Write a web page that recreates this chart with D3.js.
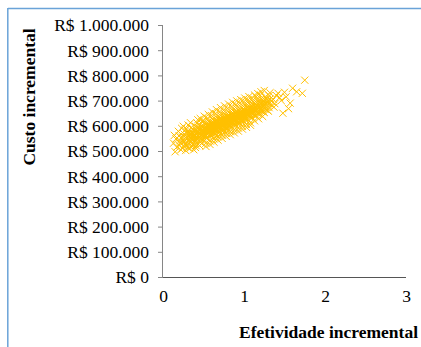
<!DOCTYPE html>
<html><head><meta charset="utf-8">
<script src="https://cdn.jsdelivr.net/npm/d3@7"></script>
<style>body{margin:0;background:#fff}svg{display:block}text{font-family:"Liberation Serif","Times New Roman",serif}</style>
</head><body>
<svg id="c" width="421" height="347"></svg>
<script>
// Incremental cost (R$ thousands) vs incremental effectiveness, one pair per simulation
const simulacoes = [
[0.13,531],[0.15,497],[0.16,548],[0.17,515],[0.14,562],
[0.19,578],[0.2,522],[0.21,541],[0.22,505],[0.2,560],[0.23,590],[0.21,533],[0.22,552],
[0.24,511],[0.25,544],[0.26,567],[0.27,528],[0.25,598],[0.24,555],[0.26,536],[0.27,582],[0.28,502],[0.26,519],
[0.29,548],[0.3,571],[0.31,530],[0.32,557],[0.3,515],[0.31,603],[0.29,588],[0.32,541],[0.33,566],[0.3,524],[0.33,510],[0.31,578],
[0.34,553],[0.35,536],[0.36,575],[0.37,560],[0.35,594],[0.36,519],[0.38,547],[0.34,612],[0.37,585],[0.38,505],[0.35,568],[0.36,543],[0.37,527],[0.39,580],
[0.4,561],[0.41,583],[0.42,548],[0.39,535],[0.43,572],[0.4,598],[0.41,521],[0.42,611],[0.44,556],[0.4,545],[0.43,590],[0.41,568],[0.42,531],[0.44,578],[0.4,514],[0.43,624],
[0.45,570],[0.46,551],[0.47,588],[0.45,603],[0.48,563],[0.46,535],[0.47,578],[0.49,596],[0.45,522],[0.48,617],[0.46,584],[0.47,545],[0.49,558],[0.45,556],[0.48,530],[0.46,629],
[0.5,578],[0.51,560],[0.52,594],[0.5,545],[0.53,583],[0.51,609],[0.52,568],[0.54,552],[0.5,620],[0.53,531],[0.51,590],[0.52,575],[0.54,600],[0.5,562],[0.53,518],[0.51,638],[0.52,587],[0.54,568],
[0.55,589],[0.56,570],[0.57,604],[0.55,555],[0.58,592],[0.56,617],[0.57,578],[0.59,563],[0.55,630],[0.58,540],[0.56,598],[0.57,585],[0.59,610],[0.55,572],[0.58,526],[0.56,645],[0.57,560],[0.59,596],[0.55,606],
[0.6,595],[0.61,578],[0.62,612],[0.6,563],[0.63,600],[0.61,625],[0.62,586],[0.64,570],[0.6,640],[0.63,548],[0.61,605],[0.62,592],[0.64,618],[0.6,580],[0.63,535],[0.61,655],[0.62,568],[0.64,603],[0.6,610],[0.63,588],
[0.65,602],[0.66,584],[0.67,619],[0.65,570],[0.68,606],[0.66,632],[0.67,593],[0.69,577],[0.65,648],[0.68,556],[0.66,612],[0.67,599],[0.69,625],[0.65,587],[0.68,543],[0.66,664],[0.67,575],[0.69,610],[0.65,617],[0.68,595],[0.66,562],
[0.7,609],[0.71,591],[0.72,626],[0.7,577],[0.73,613],[0.71,640],[0.72,600],[0.74,584],[0.7,655],[0.73,563],[0.71,619],[0.72,606],[0.74,632],[0.7,594],[0.73,550],[0.71,672],[0.72,582],[0.74,617],[0.7,624],[0.73,602],[0.71,569],
[0.75,616],[0.76,598],[0.77,633],[0.75,584],[0.78,620],[0.76,647],[0.77,607],[0.79,591],[0.75,662],[0.78,570],[0.76,626],[0.77,613],[0.79,639],[0.75,601],[0.78,558],[0.76,679],[0.77,589],[0.79,624],[0.75,631],[0.78,609],[0.76,576],
[0.8,622],[0.81,604],[0.82,640],[0.8,590],[0.83,627],[0.81,654],[0.82,614],[0.84,598],[0.8,669],[0.83,577],[0.81,633],[0.82,620],[0.84,646],[0.8,608],[0.83,565],[0.81,686],[0.82,596],[0.84,631],[0.8,638],[0.83,616],[0.81,583],
[0.85,629],[0.86,611],[0.87,647],[0.85,597],[0.88,634],[0.86,661],[0.87,621],[0.89,605],[0.85,676],[0.88,584],[0.86,640],[0.87,627],[0.89,653],[0.85,615],[0.88,572],[0.86,693],[0.87,603],[0.89,638],[0.85,645],[0.88,623],
[0.9,636],[0.91,618],[0.92,654],[0.9,604],[0.93,641],[0.91,668],[0.92,628],[0.94,612],[0.9,683],[0.93,591],[0.91,647],[0.92,634],[0.94,660],[0.9,622],[0.93,579],[0.91,699],[0.92,610],[0.94,645],[0.9,652],
[0.95,643],[0.96,625],[0.97,661],[0.95,611],[0.98,648],[0.96,675],[0.97,635],[0.99,619],[0.95,690],[0.98,598],[0.96,654],[0.97,641],[0.99,667],[0.95,629],[0.98,587],[0.96,704],[0.97,617],[0.99,652],
[1.0,650],[1.01,632],[1.02,668],[1.0,618],[1.03,655],[1.01,682],[1.02,642],[1.04,626],[1.0,696],[1.03,605],[1.01,661],[1.02,648],[1.04,674],[1.0,636],[1.03,594],[1.01,710],[1.02,624],
[1.05,656],[1.06,639],[1.07,675],[1.05,625],[1.08,662],[1.06,689],[1.07,649],[1.09,633],[1.05,703],[1.08,612],[1.06,668],[1.07,655],[1.09,681],[1.05,643],[1.08,602],[1.06,716],
[1.1,663],[1.11,646],[1.12,681],[1.1,632],[1.13,669],[1.11,695],[1.12,656],[1.14,640],[1.1,709],[1.13,620],[1.11,675],[1.12,662],[1.14,688],[1.1,650],[1.13,722],
[1.15,670],[1.16,652],[1.17,688],[1.15,639],[1.18,676],[1.16,701],[1.17,663],[1.19,647],[1.15,715],[1.18,628],[1.16,682],[1.17,728],[1.19,694],
[1.2,676],[1.21,659],[1.22,694],[1.2,646],[1.23,683],[1.21,707],[1.22,670],[1.24,655],[1.2,721],[1.23,637],[1.21,735],[1.24,700],
[1.25,683],[1.26,666],[1.27,700],[1.25,653],[1.28,690],[1.26,714],[1.27,676],[1.29,662],[1.25,740],[1.28,707],
[1.3,690],[1.31,672],[1.32,706],[1.31,720],[1.33,684],[1.3,658],[1.32,731],[1.34,697],
[1.36,705],[1.38,688],[1.4,720],[1.42,729],[1.37,674],[1.44,712],[1.46,700],
[1.48,650],[1.5,733],[1.57,690],[1.6,749],[1.52,715],[1.72,729],[1.75,781],[1.65,735],[1.55,668],
// denser core of the cloud
[0.28,553],[0.32,572],[0.35,551],[0.38,565],[0.41,553],[0.43,560],[0.46,567],[0.48,580],[0.5,571],[0.52,556],
[0.54,584],[0.56,581],[0.58,575],[0.6,588],[0.62,599],[0.64,585],[0.66,597],[0.68,618],[0.7,603],[0.72,613],
[0.74,600],[0.76,611],[0.78,630],[0.8,615],[0.82,628],[0.84,617],[0.86,626],[0.88,645],[0.9,629],[0.92,643],
[0.94,630],[0.96,640],[0.98,659],[1.0,643],[1.02,657],[1.04,646],[1.06,652],[1.08,672],[1.1,657],[1.12,671],
[1.14,660],[1.16,666],[1.18,686],[1.2,668],[1.22,683],[1.24,677],[1.27,688],[1.29,699],
[0.33,545],[0.37,569],[0.42,575],[0.47,562],[0.51,580],[0.55,596],[0.59,582],[0.63,612],[0.67,588],[0.71,630],
[0.75,606],[0.79,612],[0.83,638],[0.87,615],[0.91,656],[0.95,636],[0.99,638],[1.03,667],[1.07,643],[1.11,686],
[1.15,662],[1.19,671],[1.23,694],[0.45,590],[0.53,606],[0.61,598],[0.69,635],[0.77,640],[0.85,622],[0.93,650],
[1.01,655],[1.09,665],[0.39,557],[0.49,585],[0.57,592],[0.65,593],[0.73,625],[0.81,620],[0.89,630],[0.97,648]
];
const xTicks = [0, 1, 2, 3];
const yTicks = [0, 100, 200, 300, 400, 500, 600, 700, 800, 900, 1000];
const yTickLabels = ["R$ 0","R$ 100.000","R$ 200.000","R$ 300.000","R$ 400.000","R$ 500.000","R$ 600.000","R$ 700.000","R$ 800.000","R$ 900.000","R$ 1.000.000"];
const xTitle = "Efetividade incremental";
const yTitle = "Custo incremental";

const svg = d3.select("#c");
// frame (blue border on left and top)
svg.append("line").attr("x1",8).attr("x2",421).attr("y1",8.5).attr("y2",8.5).attr("stroke","#6aa3d8").attr("stroke-width",1.5);
svg.append("line").attr("x1",7.8).attr("x2",7.8).attr("y1",8).attr("y2",347).attr("stroke","#6aa3d8").attr("stroke-width",1.5);

const x = d3.scaleLinear().domain([0,3]).range([163,406]);
const y = d3.scaleLinear().domain([0,1000]).range([277,25]);

// y axis
const yAxis = svg.append("g").attr("transform","translate(163,0)")
  .call(d3.axisLeft(y).tickValues(yTicks).tickSize(5).tickPadding(9).tickFormat((d,i)=>yTickLabels[i]));
yAxis.select(".domain").attr("stroke","#868686").attr("d","M-0.5,25.5V277.5");
yAxis.selectAll(".tick line").attr("stroke","#868686");
yAxis.selectAll(".tick text").attr("fill","#000").style("font-size","17.5px").style("font-family","'Liberation Serif',serif").attr("dy","0.34em");

// x axis
const xAxis = svg.append("g").attr("transform","translate(0,277)")
  .call(d3.axisBottom(x).tickValues(xTicks).tickSize(0).tickPadding(13).tickFormat(d3.format("d")));
xAxis.select(".domain").attr("stroke","#555").attr("d","M163,0.5H406");
xAxis.selectAll(".tick text").attr("fill","#000").style("font-size","17.5px").style("font-family","'Liberation Serif',serif");

// markers
const s = 3.6;
svg.append("g").selectAll("path").data(simulacoes).join("path")
  .attr("d", d => {
    const cx = x(d[0]), cy = y(d[1]);
    return `M${cx-s},${cy-s}L${cx+s},${cy+s}M${cx-s},${cy+s}L${cx+s},${cy-s}`;
  })
  .attr("fill","none").attr("stroke","#FFC000").attr("stroke-width",1);

// titles
svg.append("text").attr("x",418).attr("y",338).attr("text-anchor","end")
  .style("font-size","17.5px").style("font-weight","bold").text(xTitle);
svg.append("text").attr("transform","translate(35,97) rotate(-90)").attr("text-anchor","middle")
  .style("font-size","17.5px").style("font-weight","bold").text(yTitle);
</script>
</body></html>
